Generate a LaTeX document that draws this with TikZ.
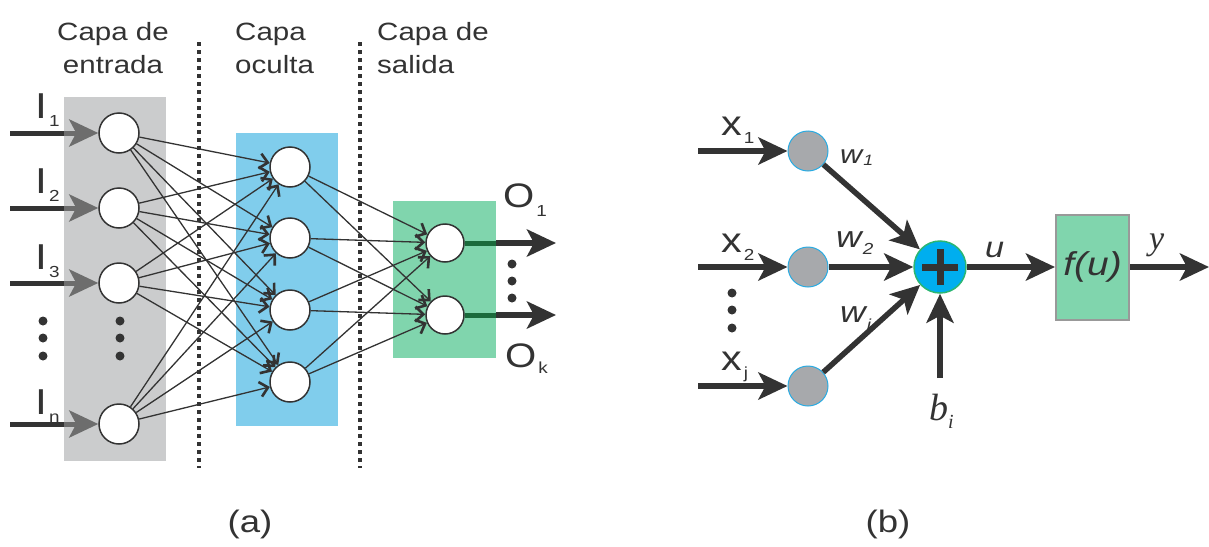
\documentclass[tikz,border=0pt]{standalone}
\usepackage{fontspec}
\setmainfont{Liberation Sans}
\newfontfamily\wide[FakeStretch=1.18]{Liberation Sans}
\newfontfamily\tms{Liberation Serif}
\usetikzlibrary{arrows.meta}
\definecolor{dk}{HTML}{333333}
\definecolor{graybg}{HTML}{CBCCCD}
\definecolor{bluebg}{HTML}{80CDEC}
\definecolor{greenbg}{HTML}{80D5AD}
\definecolor{grayarr}{HTML}{6D6D6D}
\definecolor{dkgreen}{HTML}{1A6B3C}
\definecolor{gnodefill}{HTML}{A7A9AC}
\definecolor{gnodeline}{HTML}{29ABE2}
\definecolor{sumfill}{HTML}{00AEEF}
\definecolor{sumline}{HTML}{2BB673}
\definecolor{fline}{HTML}{999999}
\newcommand\lsub[2]{\kern2pt\raisebox{#1}{\fontsize{16}{16}\selectfont #2}}
\begin{document}
\begin{tikzpicture}[x=1pt,y=-1pt,
  every node/.style={inner sep=0pt, text=dk},
  neuron/.style={circle, draw=dk, fill=white, line width=1.5pt, minimum size=40pt},
  onode/.style={neuron, minimum size=38pt},
  gnode/.style={circle, draw=gnodeline, fill=gnodefill, line width=1pt, minimum size=40pt},
  sumnode/.style={circle, draw=sumline, fill=sumfill, line width=1.5pt, minimum size=52pt},
  fbox/.style={draw=fline, fill=greenbg, line width=2pt, minimum width=73pt, minimum height=105pt},
  thinarr/.style={draw=dk, line width=1.3pt, -{Straight Barb[length=8pt,width=15pt,line width=2.6pt]}},
  bigarr/.style={draw=dk, line width=5.5pt, -{Stealth[length=29pt,width=27pt,inset=7pt]}},
  grayarr/.style={draw=grayarr, line width=5pt, -{Stealth[length=29pt,width=27pt,inset=7pt]}},
  dkline/.style={draw=dk, line width=5pt},
  dgline/.style={draw=dkgreen, line width=5pt},
  dotline/.style={draw=dk, line width=4pt, dash pattern=on 4pt off 4pt},
  layerlbl/.style={font=\wide\fontsize{25}{33}\selectfont},
  biglbl/.style={font=\wide\fontsize{36}{36}\selectfont, anchor=base west},
  caplbl/.style={font=\wide\fontsize{31}{31}\selectfont},
  dotc/.style={fill=dk}
]
\useasboundingbox (0,0) rectangle (1209,546);

% ---------------- (a) ----------------
\fill[graybg] (64,97) rectangle (166,461);
\fill[bluebg] (236,133) rectangle (338,426);
\fill[greenbg] (393,201) rectangle (496,358);

\node[layerlbl, align=center, anchor=base] (t1) at (113,73) {Capa de\\entrada};
\node[layerlbl, align=left, anchor=base west] (t2) at (235,73) {Capa\\oculta};
\node[layerlbl, align=left, anchor=base west] (t3) at (377,73) {Capa de\\salida};

\coordinate (d1t) at (199,42); \coordinate (d1b) at (199,468);
\coordinate (d2t) at (360,42); \coordinate (d2b) at (360,468);
\draw[dotline] (d1t) -- (d1b);
\draw[dotline] (d2t) -- (d2b);

\node[neuron] (i1) at (119,133) {};
\node[neuron] (i2) at (119,208) {};
\node[neuron] (i3) at (119,283) {};
\node[neuron] (i4) at (119,424) {};

\node[neuron] (h1) at (290,167) {};
\node[neuron] (h2) at (290,238) {};
\node[neuron] (h3) at (290,310) {};
\node[neuron] (h4) at (290,382) {};

\node[onode] (o1) at (445,243) {};
\node[onode] (o2) at (445,315) {};

\foreach \a in {i1,i2,i3,i4}
  \foreach \b in {h1,h2,h3,h4}
    \draw[thinarr] (\a) -- (\b);
\foreach \a in {h1,h2,h3,h4}
  \foreach \b in {o1,o2}
    \draw[thinarr] (\a) -- (\b);

% input arrows
\foreach \n/\y in {1/133,2/208,3/283,4/424}{
  \coordinate (s\n) at (10,\y);
  \coordinate (m\n) at (64,\y);
  \draw[dkline] (s\n) -- (m\n);
  \draw[grayarr] (m\n) -- (i\n);
}

\node[biglbl] (lI1) at (35,118) {I\lsub{-8pt}{1}};
\node[biglbl] (lI2) at (35,193) {I\lsub{-8pt}{2}};
\node[biglbl] (lI3) at (35,269) {I\lsub{-8pt}{3}};
\node[biglbl] (lI4) at (35,414) {I\lsub{-8pt}{n}};

% dots
\foreach \y in {321,338,356}{
  \fill[dotc] (43,\y) circle (4.5pt);
  \fill[dotc] (120,\y) circle (4.5pt);
}
\foreach \y in {264,281,298}
  \fill[dotc] (512,\y) circle (4.5pt);

% outputs
\coordinate (om1) at (496,243); \coordinate (oe1) at (556,243);
\coordinate (om2) at (496,315); \coordinate (oe2) at (556,315);
\draw[dgline] (o1) -- (om1);
\draw[dgline] (o2) -- (om2);
\draw[bigarr] (om1) -- (oe1);
\draw[bigarr] (om2) -- (oe2);

\node[biglbl, font=\wide\fontsize{34}{34}\selectfont] (lO1) at (503,207) {O\lsub{-9pt}{1}};
\node[biglbl, font=\wide\fontsize{34}{34}\selectfont] (lO2) at (505,367) {O\lsub{-6pt}{k}};

\node[caplbl] (capa) at (250,524) {(a)};

% ---------------- (b) ----------------
\node[gnode] (n1) at (808,151) {};
\node[gnode] (n2) at (808,267) {};
\node[gnode] (n3) at (808,386) {};
\node[sumnode] (sum) at (940,267) {};
\draw[dk, line width=7pt] ([xshift=-18pt]sum.center) -- ([xshift=18pt]sum.center);
\draw[dk, line width=7pt] ([yshift=-18pt]sum.center) -- ([yshift=18pt]sum.center);
\node[fbox, font=\wide\itshape\fontsize{33}{33}\selectfont] (fb) at (1092.5,267) {f(u)};

\coordinate (xs1) at (698,151);
\coordinate (xs2) at (698,267);
\coordinate (xs3) at (698,386);
\draw[bigarr] (xs1) -- (n1);
\draw[bigarr] (xs2) -- (n2);
\draw[bigarr] (xs3) -- (n3);
\draw[bigarr] (n1) -- (sum);
\draw[bigarr] (n2) -- (sum);
\draw[bigarr] (n3) -- (sum);
\coordinate (bs) at (940,378);
\draw[bigarr] (bs) -- (sum);
\draw[bigarr] (sum) -- (fb);
\coordinate (yend) at (1209,267);
\draw[bigarr] (fb) -- (yend);

\node[biglbl, font=\wide\fontsize{35}{35}\selectfont] (lx1) at (721,135) {x\lsub{-8pt}{1}};
\node[biglbl, font=\wide\fontsize{35}{35}\selectfont] (lx2) at (721,252) {x\lsub{-8pt}{2}};
\node[biglbl, font=\wide\fontsize{35}{35}\selectfont] (lx3) at (721,370) {x\lsub{-8pt}{j}};
\foreach \y in {293,310,328}
  \fill[dotc] (732,\y) circle (4.5pt);

\node[anchor=base west, font=\wide\itshape\fontsize{26}{26}\selectfont] (w1) at (840,163) {w\kern1pt\raisebox{-2pt}{\fontsize{15}{15}\selectfont 1}};
\node[anchor=base west, font=\wide\itshape\fontsize{30}{30}\selectfont] (w2) at (836,247) {w\kern1pt\raisebox{-7pt}{\fontsize{16}{16}\selectfont 2}};
\node[anchor=base west, font=\wide\itshape\fontsize{30}{30}\selectfont] (wj) at (840,322) {w\kern1pt\raisebox{-8pt}{\fontsize{16}{16}\selectfont j}};

\node[anchor=base west, font=\tms\itshape\fontsize{38}{38}\selectfont] (lb) at (929,420) {b\raisebox{-8pt}{\fontsize{20}{20}\selectfont i}};
\node[anchor=base west, font=\wide\itshape\fontsize{29}{29}\selectfont] (lu) at (985,257) {u};
\node[anchor=base west, font=\tms\itshape\fontsize{34}{34}\selectfont] (ly) at (1149,249) {y};

\node[caplbl] (capb) at (888,524) {(b)};
\end{tikzpicture}
\end{document}
